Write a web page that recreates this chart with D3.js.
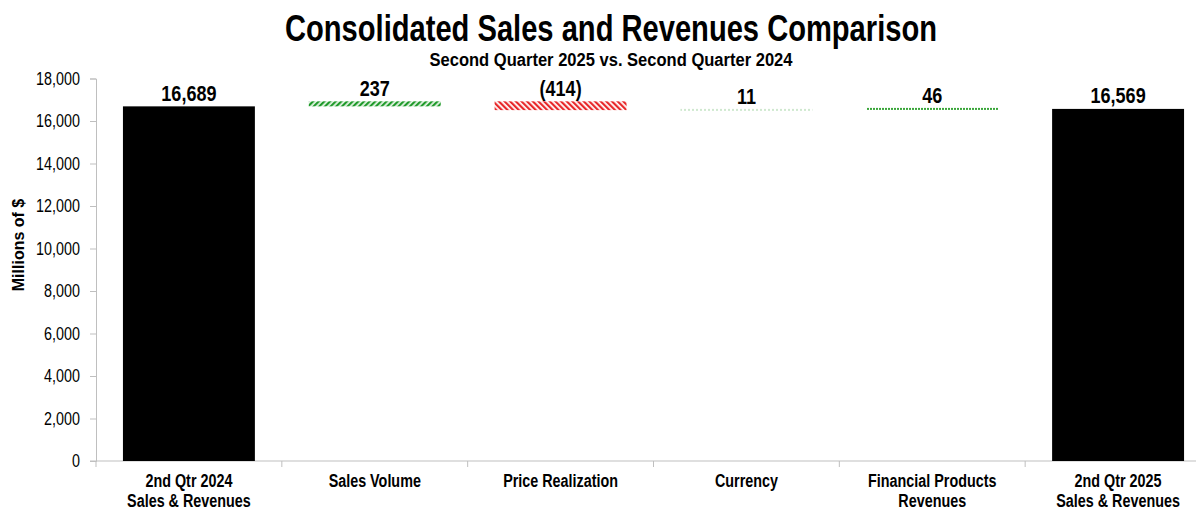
<!DOCTYPE html>
<html>
<head>
<meta charset="utf-8">
<script src="https://cdn.jsdelivr.net/npm/d3@7"></script>
<style>
  body { margin: 0; background: #fff; }
  text { font-family: "Liberation Sans", Arial, sans-serif; }
</style>
</head>
<body>
<svg id="chart"></svg>
<script>
const categories = [
  ["2nd Qtr 2024", "Sales & Revenues"],
  ["Sales Volume"],
  ["Price Realization"],
  ["Currency"],
  ["Financial Products", "Revenues"],
  ["2nd Qtr 2025", "Sales & Revenues"]
];
// change values, first and last are totals
const values = [16689, 237, -414, 11, 46, 16569];
const kinds = ["total", "up", "down", "flat", "small", "total"];
const valueLabels = ["16,689", "237", "(414)", "11", "46", "16,569"];
const yTicks = [0, 2000, 4000, 6000, 8000, 10000, 12000, 14000, 16000, 18000];

const width = 1196;
const height = 510;
const plotLeft = 96, plotRight = 1211, plotTop = 78.5, plotBottom = 461;
const narrow = 0.82; // no Arial Narrow installed, squeeze Liberation Sans instead

const svg = d3.select("#chart").attr("width", width).attr("height", height);

// patterns
const defs = svg.append("defs");
const up = defs.append("pattern").attr("id", "hatchUp")
  .attr("patternUnits", "userSpaceOnUse").attr("width", 4).attr("height", 4)
  .attr("patternTransform", "rotate(45)");
up.append("rect").attr("width", 4).attr("height", 4).attr("fill", "#e6f4e6");
up.append("rect").attr("width", 2.2).attr("height", 4).attr("fill", "#1f9a2a");

const down = defs.append("pattern").attr("id", "hatchDown")
  .attr("patternUnits", "userSpaceOnUse").attr("width", 4).attr("height", 4)
  .attr("patternTransform", "rotate(-45)");
down.append("rect").attr("width", 4).attr("height", 4).attr("fill", "#fff");
down.append("rect").attr("width", 2.2).attr("height", 4).attr("fill", "#e8282a");

const dotsLight = defs.append("pattern").attr("id", "dotsLight")
  .attr("patternUnits", "userSpaceOnUse").attr("width", 4).attr("height", 2);
dotsLight.append("rect").attr("width", 2).attr("height", 2).attr("fill", "#cfe8cf");

const dotsGreen = defs.append("pattern").attr("id", "dotsGreen")
  .attr("patternUnits", "userSpaceOnUse").attr("width", 3).attr("height", 2);
dotsGreen.append("rect").attr("width", 2).attr("height", 2).attr("fill", "#3aa63a");

const fills = { total: "#000", up: "url(#hatchUp)", down: "url(#hatchDown)", flat: "url(#dotsLight)", small: "url(#dotsGreen)" };

// build waterfall steps
let running = 0;
const steps = values.map((v, i) => {
  let start, end;
  if (kinds[i] === "total") { start = 0; end = v; running = v; }
  else { start = running; end = running + v; running = end; }
  return { i, start, end, lo: Math.min(start, end), hi: Math.max(start, end) };
});

const x = d3.scaleBand().domain(d3.range(categories.length)).range([plotLeft, plotRight]).paddingInner(0.29).paddingOuter(0.145);
const xb = d3.scaleBand().domain(d3.range(categories.length)).range([plotLeft, plotRight]);
const y = d3.scaleLinear().domain([0, 18000]).range([plotBottom, plotTop]);

// title
svg.append("text").attr("x", 611).attr("y", 41).attr("text-anchor", "middle")
  .attr("font-size", 37).attr("font-weight", "bold")
  .attr("textLength", 652).attr("lengthAdjust", "spacingAndGlyphs")
  .text("Consolidated Sales and Revenues Comparison");
svg.append("text").attr("x", 611).attr("y", 66).attr("text-anchor", "middle")
  .attr("font-size", 17.5).attr("font-weight", "bold")
  .attr("textLength", 363).attr("lengthAdjust", "spacingAndGlyphs")
  .text("Second Quarter 2025 vs. Second Quarter 2024");

// y axis
const yAxis = d3.axisLeft(y).tickValues(yTicks).tickSize(6).tickFormat(d3.format(","));
const gy = svg.append("g").attr("transform", "translate(" + plotLeft + ",0)").call(yAxis);
gy.select(".domain").attr("stroke", "#bfbfbf");
gy.selectAll(".tick line").attr("stroke", "#bfbfbf");
gy.selectAll(".tick text").attr("font-size", 17.5).attr("fill", "#000")
  .attr("x", 0).attr("transform", "translate(-16,0) scale(" + narrow + ",1)");

svg.append("text").attr("transform", "translate(24,245) rotate(-90)").attr("text-anchor", "middle")
  .attr("font-size", 16).attr("font-weight", "bold").text("Millions of $");

// x axis line with ticks at band boundaries
svg.append("line").attr("x1", plotLeft - 6).attr("x2", width).attr("y1", plotBottom).attr("y2", plotBottom).attr("stroke", "#bfbfbf");
svg.selectAll(".xtick").data(d3.range(categories.length + 1)).enter().append("line")
  .attr("x1", d => plotLeft + d * xb.bandwidth()).attr("x2", d => plotLeft + d * xb.bandwidth())
  .attr("y1", plotBottom).attr("y2", plotBottom + 6).attr("stroke", "#bfbfbf");

// category labels
const cat = svg.selectAll(".cat").data(categories).enter().append("text")
  .attr("transform", (d, i) => "translate(" + (xb(i) + xb.bandwidth() / 2) + ",0) scale(" + narrow + ",1)")
  .attr("text-anchor", "middle").attr("font-size", 17.5).attr("font-weight", "bold");
cat.selectAll("tspan").data(d => d).enter().append("tspan")
  .attr("x", 0)
  .attr("y", (d, j) => 487 + j * 20)
  .text(d => d);

// bars
svg.selectAll(".bar").data(steps).enter().append("rect")
  .attr("x", d => x(d.i)).attr("width", x.bandwidth())
  .attr("y", d => kinds[d.i] === "flat" || kinds[d.i] === "small" ? y(d.hi) - 1 : y(d.hi))
  .attr("height", d => Math.max(2, y(d.lo) - y(d.hi)))
  .attr("fill", d => fills[kinds[d.i]]);

// value labels
svg.selectAll(".val").data(steps).enter().append("text")
  .attr("transform", d => "translate(" + (x(d.i) + x.bandwidth() / 2) + "," + (y(d.hi) - 5.5) + ") scale(" + narrow + ",1)")
  .attr("text-anchor", "middle").attr("font-size", 22).attr("font-weight", "bold")
  .text(d => valueLabels[d.i]);
</script>
</body>
</html>
